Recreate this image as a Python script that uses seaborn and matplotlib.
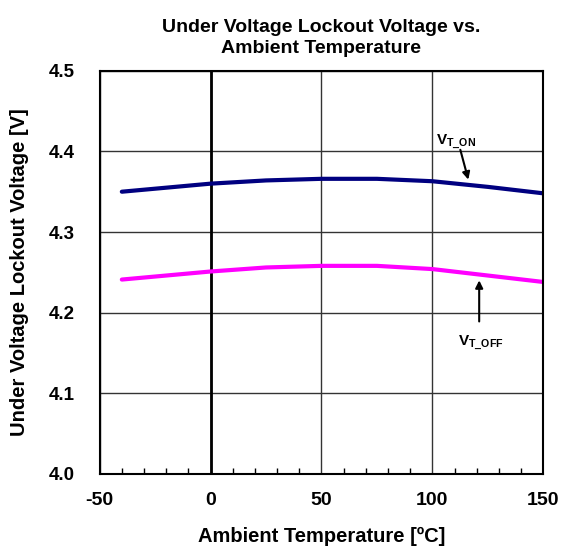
import numpy as np
import pandas as pd
import seaborn as sns
import matplotlib.pyplot as plt
from matplotlib.ticker import MultipleLocator

temp = [-40, -20, 0, 25, 50, 75, 100, 125, 150]
v_on = [4.350, 4.355, 4.360, 4.364, 4.366, 4.366, 4.363, 4.356, 4.348]
v_off = [4.241, 4.246, 4.251, 4.256, 4.258, 4.258, 4.254, 4.246, 4.238]

df = pd.DataFrame({'temp': temp + temp,
                   'volt': v_on + v_off,
                   'series': ['on'] * len(temp) + ['off'] * len(temp)})

sns.set_style('white')
plt.rcParams['font.family'] = ['Liberation Sans', 'DejaVu Sans']
plt.rcParams['axes.unicode_minus'] = False
plt.rcParams['mathtext.fontset'] = 'custom'
plt.rcParams['mathtext.rm'] = 'Liberation Sans:bold'
plt.rcParams['mathtext.bf'] = 'Liberation Sans:bold'
for k in ['text.color', 'axes.labelcolor', 'xtick.color', 'ytick.color']:
    plt.rcParams[k] = 'black'

fig, ax = plt.subplots(figsize=(5.63, 5.49), dpi=100)
fig.subplots_adjust(left=0.177, right=0.965, top=0.871, bottom=0.137)

sns.lineplot(data=df, x='temp', y='volt', hue='series',
             palette={'on': '#000080', 'off': '#ff00ff'},
             linewidth=3, legend=False, ax=ax)

ax.set_xlim(-50, 150)
ax.set_ylim(4.0, 4.5)
ax.xaxis.set_major_locator(MultipleLocator(50))
ax.xaxis.set_minor_locator(MultipleLocator(10))
ax.set_yticks(np.arange(4.0, 4.51, 0.1))
ax.set_yticklabels([f'{v:.1f}' for v in np.arange(4.0, 4.51, 0.1)])

ax.grid(True, which='major', color='#333333', linewidth=1)
ax.axvline(0, color='black', linewidth=2, zorder=1)
for s in ax.spines.values():
    s.set_color('black')
    s.set_linewidth(1.5)

ax.tick_params(axis='x', which='minor', direction='in', length=4, width=1,
               bottom=True, top=False)
ax.tick_params(axis='x', which='major', length=0, pad=13, labelsize=14)
ax.tick_params(axis='y', which='major', length=0, pad=18, labelsize=13.5)
for lab in ax.get_xticklabels() + ax.get_yticklabels():
    lab.set_fontweight('bold')

ax.set_xlabel('Ambient Temperature [ºC]', fontsize=14.5, fontweight='bold', labelpad=13)
ax.set_ylabel('Under Voltage Lockout Voltage [V]', fontsize=14.5, fontweight='bold', labelpad=14)
ax.set_title('Under Voltage Lockout Voltage vs.\nAmbient Temperature',
             fontsize=14, fontweight='bold', pad=13, linespacing=1.3)

arrow = dict(arrowstyle='-|>', color='black', lw=1.5, mutation_scale=11,
             shrinkA=0, shrinkB=0)
ax.annotate('', xy=(116.2, 4.365), xytext=(112.6, 4.402), arrowprops=arrow)
ax.annotate('', xy=(121.1, 4.240), xytext=(121.1, 4.189), arrowprops=arrow)
ax.text(110.5, 4.412, '$\\mathbf{V}_{\\mathbf{T\\_ON}}$', fontsize=11,
        ha='center', va='center')
ax.text(121.8, 4.163, '$\\mathbf{V}_{\\mathbf{T\\_OFF}}$', fontsize=11,
        ha='center', va='center')

plt.savefig('out.png', dpi=100)
